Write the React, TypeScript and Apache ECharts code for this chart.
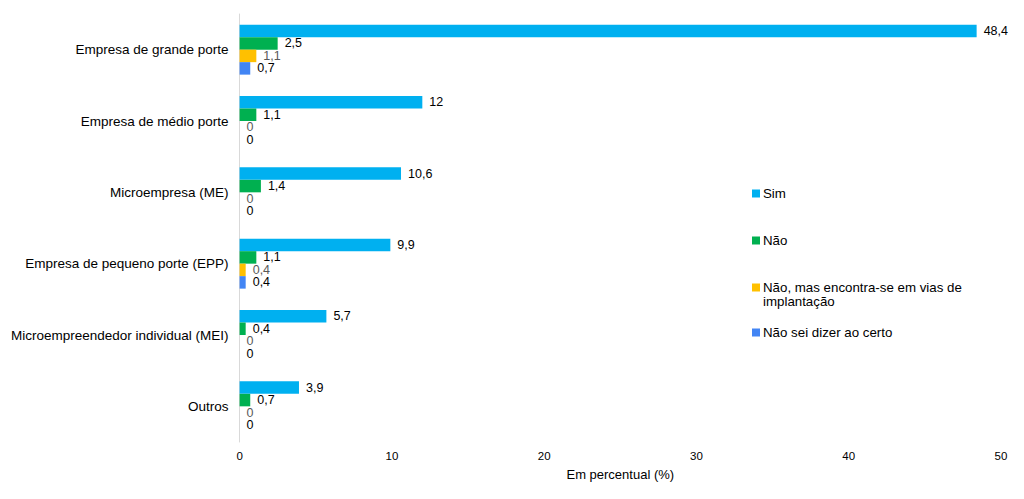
import React, { useEffect, useRef } from "react";
import * as echarts from "echarts";

const categories = [
  "Empresa de grande porte",
  "Empresa de médio porte",
  "Microempresa (ME)",
  "Empresa de pequeno porte (EPP)",
  "Microempreendedor individual (MEI)",
  "Outros",
];
const seriesNames = [
  "Sim",
  "Não",
  "Não, mas encontra-se em vias de implantação",
  "Não sei dizer ao certo",
];
const simValues = [48.4, 12, 10.6, 9.9, 5.7, 3.9];
const naoValues = [2.5, 1.1, 1.4, 1.1, 0.4, 0.7];
const implantacaoValues = [1.1, 0, 0, 0.4, 0, 0];
const naoSeiValues = [0.7, 0, 0, 0.4, 0, 0];
const xTicks = [0, 10, 20, 30, 40, 50];

const colors = ["#00B0F0", "#00B050", "#FFC000", "#4285F4"];
const labelColors = ["#000000", "#000000", "#595959", "#000000"];
const FONT = "'Liberation Sans', Arial, sans-serif";

export default function App() {
  const ref = useRef<HTMLDivElement>(null);
  useEffect(() => {
    if (!ref.current) return;
    const chart = echarts.init(ref.current, null, { renderer: "svg" });
    const allValues = [simValues, naoValues, implantacaoValues, naoSeiValues];
    const legendTops = [174, 221, 268, 313];
    chart.setOption({
      animation: false,
      textStyle: { fontFamily: FONT },
      grid: { left: 231, right: 15, top: 6, bottom: 49, containLabel: false },
      xAxis: {
        type: "value",
        min: xTicks[0],
        max: xTicks[xTicks.length - 1],
        interval: 10,
        axisLine: { show: false },
        axisTick: { show: false },
        splitLine: { show: false },
        axisLabel: { color: "#000", fontSize: 11.5, fontFamily: FONT, margin: 8 },
        name: "Em percentual (%)",
        nameLocation: "middle",
        nameGap: 26,
        nameTextStyle: { color: "#000", fontSize: 13, fontFamily: FONT },
      },
      yAxis: {
        type: "category",
        data: categories,
        inverse: true,
        axisLine: { show: true, lineStyle: { color: "#D9D9D9", width: 1 } },
        axisTick: { show: false },
        axisLabel: { color: "#000", fontSize: 13.5, fontFamily: FONT, margin: 11 },
      },
      legend: seriesNames.map((n, i) => ({
        data: [n],
        orient: "vertical",
        left: 739,
        top: legendTops[i],
        itemWidth: 8,
        itemHeight: 8,
        icon: "rect",
        itemGap: 0,
        selectedMode: false,
        formatter: i === 2 ? () => "Não, mas encontra-se em vias de" : undefined,
        textStyle: { color: "#000", fontSize: 13.3, lineHeight: 13, fontFamily: FONT, padding: [0, 0, 0, -2] },
      })),
      graphic: [
        {
          type: "text",
          left: 755,
          top: 287,
          style: { text: "implantação", fill: "#000", fontSize: 13.3, lineHeight: 13, fontFamily: FONT },
        },
      ],
      series: seriesNames.map((n, i) => ({
        name: n,
        type: "bar",
        data: allValues[i],
        barGap: "0%",
        barCategoryGap: "30%",
        itemStyle: { color: colors[i] },
        label: {
          show: true,
          position: "right",
          distance: 7,
          color: labelColors[i],
          fontSize: 12.5,
          lineHeight: 11,
          fontFamily: FONT,
          formatter: (p: any) => String(p.value).replace(".", ","),
        },
      })),
    });
    return () => chart.dispose();
  }, []);
  return <div ref={ref} style={{ width: 1008, height: 483 }} />;
}
